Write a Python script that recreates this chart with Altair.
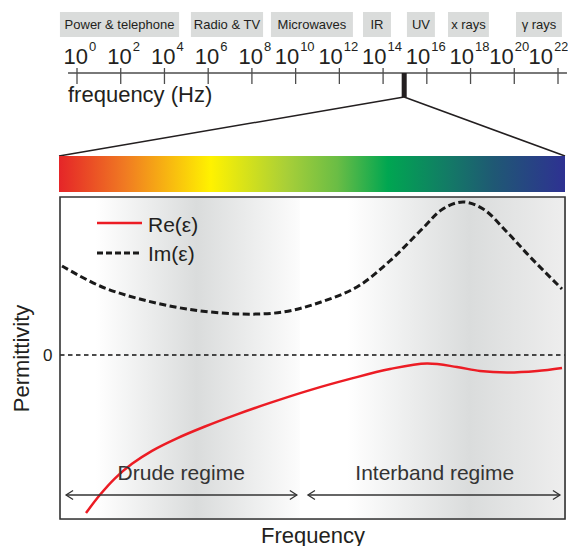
import altair as alt
import pandas as pd

FONT = "Liberation Sans"
INK = "#231f20"

# ---------------- top: electromagnetic spectrum (log10 of frequency in Hz) -------------
band_names = ["Power & telephone", "Radio & TV", "Microwaves", "IR", "UV", "x rays", "γ rays"]
band_lo = [-0.78, 5.21, 8.87, 13.08, 15.09, 16.97, 20.08]
band_hi = [4.67, 8.51, 12.62, 14.36, 16.37, 18.84, 22.18]
tick_exponents = [0, 2, 4, 6, 8, 10, 12, 14, 16, 18, 20, 22]
axis_span = [-0.41, 22.41]
visible_lo, visible_hi, visible_mid = 14.85, 15.08, 14.96

# ---------------- main plot: permittivity vs frequency (arbitrary units) ---------------
freq_domain = [0, 100]
eps_domain = [-16.4, 15.8]
re_freq = [5.15, 7.92, 10.89, 14.26, 18.22, 23.17, 28.71, 34.65, 41.58, 49.5, 57.43, 65.35,
           72.67, 78.61, 83.17, 88.51, 94.46, 99.41]
re_eps = [-15.8, -13.98, -12.33, -10.88, -9.58, -8.33, -7.15, -6.01, -4.79, -3.51, -2.39, -1.4,
          -0.85, -1.2, -1.6, -1.75, -1.6, -1.3]
im_freq = [0.4, 7.9, 15.8, 25.1, 35.6, 44.2, 51.7, 58.8, 65.3, 71.9, 75.8, 79.8, 83.8, 88.5, 93.1, 99.4]
im_eps = [8.9, 6.9, 5.6, 4.6, 4.1, 4.3, 5.3, 6.8, 9.4, 12.7, 14.6, 15.3, 14.6, 12.3, 9.8, 6.6]
regime_names = ["Drude regime", "Interband regime"]
regime_lo = [1.2, 49.1]
regime_hi = [46.9, 99.0]
regime_mid = [24.0, 74.2]
shade_lo = [0, 47.5]
shade_hi = [47.5, 100]
legend_labels = ["Re(ε)", "Im(ε)"]

# ---------------- tables ----------------
bands = pd.DataFrame({"name": band_names, "lo": band_lo, "hi": band_hi})
ticks = pd.DataFrame({"e": tick_exponents, "base": ["10"] * len(tick_exponents),
                      "sup": [str(e) for e in tick_exponents]})
span = pd.DataFrame({"lo": [axis_span[0]], "hi": [axis_span[1]]})
visible = pd.DataFrame({"lo": [visible_lo], "hi": [visible_hi], "mid": [visible_mid]})
one = pd.DataFrame({"d": [0]})

re_df = pd.DataFrame({"x": re_freq, "y": re_eps})
im_df = pd.DataFrame({"x": im_freq, "y": im_eps})
regimes = pd.DataFrame({"name": regime_names, "x": regime_lo, "x2": regime_hi, "mid": regime_mid})
frame = pd.DataFrame({"x": [freq_domain[0]], "x2": [freq_domain[1]],
                      "y": [eps_domain[0]], "y2": [eps_domain[1]]})
zero = pd.DataFrame({"x": [freq_domain[0]], "x2": [freq_domain[1]], "y": [0]})
shade_left = pd.DataFrame({"x": [shade_lo[0]], "x2": [shade_hi[0]], "y": [eps_domain[0]], "y2": [eps_domain[1]]})
shade_right = pd.DataFrame({"x": [shade_lo[1]], "x2": [shade_hi[1]], "y": [eps_domain[0]], "y2": [eps_domain[1]]})

# ---------------- main scales & axes ----------------
x_axis = alt.Axis(title="Frequency", labels=False, ticks=False, domain=False, grid=False,
                  titleFontSize=22, titleFontWeight="normal", titleColor=INK, titleFont=FONT,
                  titlePadding=6)
y_axis = alt.Axis(title="Permittivity", values=[0], ticks=False, domain=False, grid=False,
                  labelFontSize=17, labelColor=INK, labelFont=FONT, labelPadding=8,
                  titleFontSize=22, titleFontWeight="normal", titleColor=INK, titleFont=FONT,
                  titlePadding=9)


def MX(field="x"):
    return alt.X(field, type="quantitative", scale=alt.Scale(domain=freq_domain, nice=False, zero=False), axis=x_axis)


def MY(field="y"):
    return alt.Y(field, type="quantitative", scale=alt.Scale(domain=eps_domain, nice=False, zero=False), axis=y_axis)


def grad(stops):
    return alt.LinearGradient(gradient="linear", x1=0, x2=1, y1=0, y2=0,
                              stops=[alt.GradientStop(color=c, offset=o) for o, c in stops])


shadeL = alt.Chart(shade_left).mark_rect(
    fill=grad([(0, "#ffffff"), (0.15, "#ffffff"), (0.57, "#dadcdc"), (1.0, "#fcfcfc")])
).encode(x=MX("x"), x2="x2", y=MY("y"), y2="y2")
shadeR = alt.Chart(shade_right).mark_rect(
    fill=grad([(0, "#ffffff"), (0.18, "#ffffff"), (0.64, "#dadcdc"), (1.0, "#eeeeee")])
).encode(x=MX("x"), x2="x2", y=MY("y"), y2="y2")

zero_line = alt.Chart(zero).mark_rule(color="#111111", strokeWidth=1.3, strokeDash=[4.5, 3.5]).encode(
    x=MX("x"), x2="x2", y=MY("y"))

im_line = alt.Chart(im_df).mark_line(color="#1a1a1a", strokeWidth=3, strokeDash=[7, 3.5],
                                     interpolate="catmull-rom").encode(x=MX("x"), y=MY("y"))
re_line = alt.Chart(re_df).mark_line(color="#ec1c24", strokeWidth=2.5,
                                     interpolate="catmull-rom").encode(x=MX("x"), y=MY("y"))

arrow_rules = alt.Chart(regimes).mark_rule(color="#333333", strokeWidth=1.3).encode(
    x=MX("x"), x2="x2", y=alt.value(298))
head_left = alt.Chart(regimes).mark_point(shape="M 2 -1.3 L 0 0 L 2 1.3", size=49, filled=False,
                                          color="#333333", strokeWidth=1.3, opacity=1).encode(
    x=MX("x"), y=alt.value(298))
head_right = alt.Chart(regimes).mark_point(shape="M -2 -1.3 L 0 0 L -2 1.3", size=49, filled=False,
                                           color="#333333", strokeWidth=1.3, opacity=1).encode(
    x=MX("x2"), y=alt.value(298))
regime_text = alt.Chart(regimes).mark_text(fontSize=21, color="#333333", font=FONT,
                                           align="center", baseline="alphabetic").encode(
    x=MX("mid"), y=alt.value(283), text="name")

leg_re_line = alt.Chart(one).mark_rule(color="#ec1c24", strokeWidth=2.5).encode(
    x=alt.value(37), x2=alt.value(82), y=alt.value(26))
leg_im_line = alt.Chart(one).mark_rule(color="#1a1a1a", strokeWidth=3, strokeDash=[6, 3]).encode(
    x=alt.value(37), x2=alt.value(82), y=alt.value(56))
leg_re_text = alt.Chart(pd.DataFrame({"t": [legend_labels[0]]})).mark_text(
    fontSize=21, color=INK, font=FONT, align="left", baseline="alphabetic").encode(
    x=alt.value(88), y=alt.value(35), text="t")
leg_im_text = alt.Chart(pd.DataFrame({"t": [legend_labels[1]]})).mark_text(
    fontSize=21, color=INK, font=FONT, align="left", baseline="alphabetic").encode(
    x=alt.value(88), y=alt.value(64), text="t")

border = alt.Chart(frame).mark_rect(fillOpacity=0, stroke="#333333", strokeWidth=1.6).encode(
    x=MX("x"), x2="x2", y=MY("y"), y2="y2")

main = alt.layer(shadeL, shadeR, zero_line, im_line, re_line, arrow_rules, head_left, head_right,
                 regime_text, leg_re_line, leg_im_line, leg_re_text, leg_im_text, border)

# ---------------- top scales ----------------
TSCALE = alt.Scale(domain=[0, 22], range=[17, 498], nice=False, zero=False)


def TX(field):
    return alt.X(field, type="quantitative", scale=TSCALE, axis=None)


band_rects = alt.Chart(bands).mark_rect(fill="#dadcdb").encode(
    x=TX("lo"), x2="hi", y=alt.value(-185), y2=alt.value(-160))
band_text = alt.Chart(bands).transform_calculate(mid="(datum.lo + datum.hi) / 2").mark_text(
    fontSize=13, color=INK, font=FONT, align="center", baseline="middle").encode(
    x=TX("mid:Q"), y=alt.value(-172), text="name")

axis_line = alt.Chart(span).mark_rule(color="#4d4d4d", strokeWidth=1.3).encode(
    x=TX("lo"), x2="hi", y=alt.value(-124))
tick_marks = alt.Chart(ticks).mark_rule(color="#4d4d4d", strokeWidth=1.3).encode(
    x=TX("e"), y=alt.value(-129), y2=alt.value(-113))


def tick_label(cond, base_dx, sup_dx, sup_size=13):
    b = alt.Chart(ticks).transform_filter(cond).mark_text(
        fontSize=22, color=INK, font=FONT, align="right", baseline="alphabetic", dx=base_dx).encode(
        x=TX("e"), y=alt.value(-133.5), text="base")
    s = alt.Chart(ticks).transform_filter(cond).mark_text(
        fontSize=sup_size, color=INK, font=FONT, align="left", baseline="alphabetic", dx=sup_dx).encode(
        x=TX("e"), y=alt.value(-146), text="sup")
    return [b, s]


labels = (tick_label("datum.e < 10", 11, 12)
          + tick_label("datum.e >= 10 && datum.e < 20", 3.5, 4.5)
          + tick_label("datum.e == 20", -0.5, 0.5)
          + tick_label("datum.e == 22", -5, -3.8, 12.5))

freq_label = alt.Chart(pd.DataFrame({"t": ["frequency (Hz)"]})).mark_text(
    fontSize=22, color=INK, font=FONT, align="left", baseline="alphabetic").encode(
    x=alt.value(8), y=alt.value(-95.5), text="t")

marker = alt.Chart(visible).mark_rect(fill=INK).encode(
    x=TX("lo"), x2="hi", y=alt.value(-124), y2=alt.value(-100))
conn_left = alt.Chart(visible).mark_rule(color=INK, strokeWidth=1.5).encode(
    x=TX("mid"), x2=alt.value(-1), y=alt.value(-100), y2=alt.value(-41))
conn_right = alt.Chart(visible).mark_rule(color=INK, strokeWidth=1.5).encode(
    x=TX("mid"), x2=alt.value(505), y=alt.value(-100), y2=alt.value(-41))

spectrum = alt.Chart(one).mark_rect(
    fill=grad([(0, "#e52528"), (0.13, "#f07a22"), (0.30, "#fff200"), (0.45, "#a8cf38"),
               (0.55, "#6abd45"), (0.65, "#00a651"), (0.77, "#137a66"), (0.86, "#1f5874"),
               (1.0, "#2e3192")])
).encode(x=alt.value(-1), x2=alt.value(505), y=alt.value(-41), y2=alt.value(-5))

top = alt.layer(band_rects, band_text, axis_line, tick_marks, *labels,
                freq_label, marker, conn_left, conn_right, spectrum)

chart = alt.layer(main, top).resolve_scale(x="independent").properties(
    width=505, height=322,
    autosize=alt.AutoSizeParams(type="none"),
    padding={"left": 52, "top": 189, "right": 3, "bottom": 27},
).configure_view(strokeWidth=0).configure(font=FONT)

chart.save("out.html", embed_options={"renderer": "svg", "actions": False})
